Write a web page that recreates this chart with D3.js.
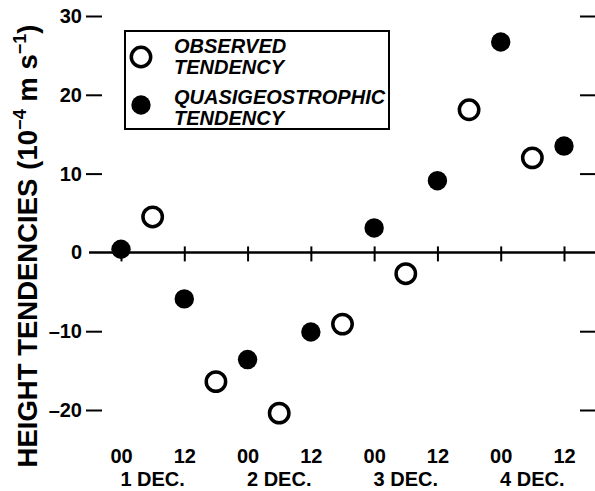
<!DOCTYPE html>
<html>
<head>
<meta charset="utf-8">
<script src="https://cdn.jsdelivr.net/npm/d3@7"></script>
<style>
  html, body { margin: 0; padding: 0; background: #fff; }
  svg { display: block; font-family: "Liberation Sans", Arial, Helvetica, sans-serif; }
</style>
</head>
<body>
<svg width="595" height="491"></svg>
<script>
// hours after 00 UTC 1 Dec
const obsHours = [6, 18, 30, 42, 54, 66, 78];
const obsValues = [4.5, -16.4, -20.4, -9.1, -2.7, 18.1, 12.0];
const qgHours = [0, 12, 24, 36, 48, 60, 72, 84];
const qgValues = [0.4, -5.9, -13.6, -10.1, 3.1, 9.1, 26.7, 13.5];

const tickHours = [0, 12, 24, 36, 48, 60, 72, 84];
const dayLabels = ['1 DEC.', '2 DEC.', '3 DEC.', '4 DEC.'];
const dayCenters = [6, 30, 54, 78];
const yTicks = [30, 20, 10, 0, -10, -20];
const legendItems = ['OBSERVED', 'QUASIGEOSTROPHIC'];

const svg = d3.select('svg');
const width = 595;
const labelSize = 20;

const x = d3.scaleLinear().domain([0, 84]).range([121, 564]);
const y = d3.scaleLinear().domain([-20, 30]).range([410, 16]);

const fmtY = v => (v < 0 ? '–' : '') + Math.abs(v);

// left axis
const yLeft = svg.append('g')
  .attr('transform', 'translate(102,0)')
  .call(d3.axisLeft(y).tickValues(yTicks).tickSize(16).tickPadding(4).tickFormat(fmtY));
yLeft.select('.domain').remove();
yLeft.selectAll('.tick line')
  .attr('stroke', '#000')
  .attr('stroke-width', 2)
  .attr('opacity', d => d === 0 ? 0 : 1);
yLeft.selectAll('.tick text')
  .attr('fill', '#000')
  .attr('font-size', labelSize)
  .attr('font-weight', 'bold')
  .attr('font-family', null);

// right axis ticks
const yRight = svg.append('g')
  .attr('transform', 'translate(580,0)')
  .call(d3.axisRight(y).tickValues(yTicks.filter(v => v !== 0)).tickSize(15).tickFormat(''));
yRight.select('.domain').remove();
yRight.selectAll('.tick line').attr('stroke', '#000').attr('stroke-width', 2);

// zero line with ticks
svg.append('line')
  .attr('x1', 89).attr('x2', width)
  .attr('y1', y(0)).attr('y2', y(0))
  .attr('stroke', '#000').attr('stroke-width', 2.5);

const xZero = svg.append('g')
  .attr('transform', `translate(0,${y(0)})`)
  .call(d3.axisBottom(x).tickValues(tickHours).tickSize(9).tickFormat(''));
xZero.select('.domain').remove();
xZero.selectAll('.tick line')
  .attr('y1', -6)
  .attr('stroke', '#000').attr('stroke-width', 2);

// hour labels
const xLab = svg.append('g')
  .attr('transform', 'translate(0,463)')
  .call(d3.axisBottom(x).tickValues(tickHours).tickSize(0).tickPadding(0)
    .tickFormat(h => h % 24 === 0 ? '00' : '12'));
xLab.select('.domain').remove();
xLab.selectAll('.tick text')
  .attr('y', 0).attr('dy', 0)
  .attr('fill', '#000')
  .attr('font-size', labelSize)
  .attr('font-weight', 'bold')
  .attr('font-family', null);

// day labels
svg.append('g').selectAll('text')
  .data(dayLabels)
  .join('text')
  .attr('x', (d, i) => x(dayCenters[i]))
  .attr('y', 486)
  .attr('text-anchor', 'middle')
  .attr('font-size', labelSize)
  .attr('font-weight', 'bold')
  .text(d => d);

// y title
const title = svg.append('text')
  .attr('transform', 'translate(37,246) rotate(-90)')
  .attr('text-anchor', 'middle')
  .attr('font-size', 27.5)
  .attr('font-weight', 'bold');
title.append('tspan').text('HEIGHT TENDENCIES');
title.append('tspan').attr('dx', 9).text('(10');
title.append('tspan').attr('dy', -11).attr('font-size', 18).text('−4');
title.append('tspan').attr('dy', 11).text(' m s');
title.append('tspan').attr('dy', -11).attr('font-size', 18).text('−1');
title.append('tspan').attr('dy', 11).text(')');

// markers
const r = 9.7;
svg.append('g').selectAll('circle')
  .data(qgHours)
  .join('circle')
  .attr('cx', d => x(d))
  .attr('cy', (d, i) => y(qgValues[i]))
  .attr('r', r)
  .attr('fill', '#000');

svg.append('g').selectAll('circle')
  .data(obsHours)
  .join('circle')
  .attr('cx', d => x(d))
  .attr('cy', (d, i) => y(obsValues[i]))
  .attr('r', r)
  .attr('fill', '#fff')
  .attr('stroke', '#000')
  .attr('stroke-width', 3.5);

// legend
const lg = svg.append('g');
lg.append('rect')
  .attr('x', 125).attr('y', 31)
  .attr('width', 264).attr('height', 98)
  .attr('fill', '#fff')
  .attr('stroke', '#000').attr('stroke-width', 2);

lg.append('circle')
  .attr('cx', 141).attr('cy', 57).attr('r', r)
  .attr('fill', '#fff').attr('stroke', '#000').attr('stroke-width', 3.5);
lg.append('circle')
  .attr('cx', 141).attr('cy', 105).attr('r', r)
  .attr('fill', '#000');

legendItems.forEach((name, i) => {
  const t = lg.append('text')
    .attr('x', 174)
    .attr('y', 53 + i * 51)
    .attr('font-size', 20)
    .attr('font-weight', 'bold')
    .attr('font-style', 'italic');
  t.append('tspan').text(name);
  t.append('tspan').attr('x', 174).attr('dy', 20.5).text('TENDENCY');
});
</script>
</body>
</html>
